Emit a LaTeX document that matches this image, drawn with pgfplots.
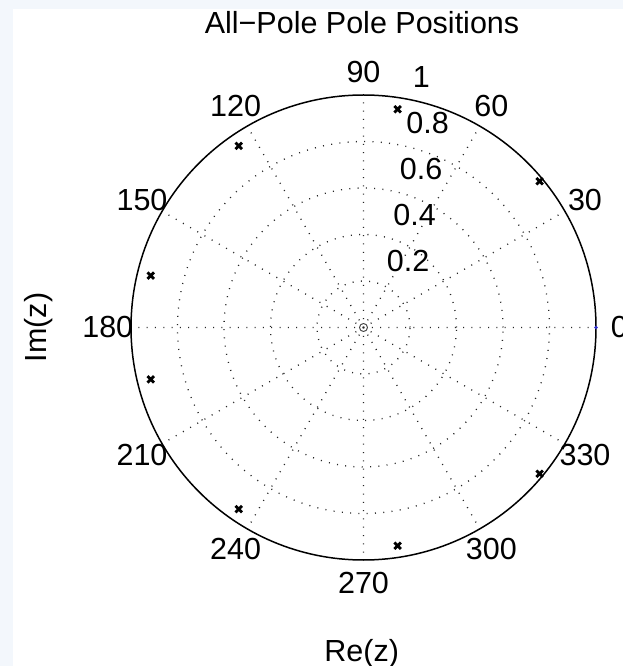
\documentclass[border=0pt]{standalone}
\usepackage{fontspec}
\setmainfont{Liberation Sans}
\usepackage{pgfplots}
\pgfplotsset{compat=1.18}
\usepgfplotslibrary{polar}
\definecolor{bgstrip}{HTML}{F3F7FC}
\definecolor{bluedot}{HTML}{3333CC}
\begin{document}
\begin{tikzpicture}[font=\fontsize{30.5bp}{36bp}\selectfont]
\path[use as bounding box] (0,0) rectangle (623bp,666bp);
\clip (0,0) rectangle (623bp,666bp);
\fill[white] (0,0) rectangle (623bp,666bp);
\fill[bgstrip] (0,0) rectangle (13.3bp,666bp);
\fill[bgstrip] (0,657bp) rectangle (623bp,666bp);
\begin{polaraxis}[
  at={(363.5bp,338.5bp)}, anchor=center,
  width=465bp, height=465bp, scale only axis,
  xmin=0, xmax=360, ymin=0, ymax=1,
  xtick={0,30,...,330}, ytick={0.2,0.4,0.6,0.8},
  xticklabels={}, yticklabels={},
  major tick length=0pt,
  grid=major,
  major grid style={black!85, line width=1.3bp, dash pattern=on 1bp off 7.3bp},
  separate axis lines,
  x axis line style={black, line width=1.5bp},
  y axis line style={draw=none},
  clip=false,
]
\addplot[only marks, mark=x, mark size=4.6bp, black, mark options={line width=2.8bp, black}] coordinates {
  (39.7,0.985) (320.3,0.985) (81.1,0.950) (278.9,0.950)
  (124.5,0.948) (235.5,0.948) (166.3,0.942) (193.7,0.942)};
\addplot[only marks, mark=o, mark size=4bp, black!75, mark options={line width=0.9bp}] coordinates {(0,0)};
\addplot[only marks, mark=*, mark size=1.5bp, bluedot] coordinates {(0,1)};
% angle labels
\node[inner sep=0] at (axis cs:0,1.1) {0};
\node[inner sep=0] at (axis cs:30,1.1) {30};
\node[inner sep=0] at (axis cs:60,1.1) {60};
\node[inner sep=0] at (axis cs:90,1.1) {90};
\node[inner sep=0] at (axis cs:120,1.1) {120};
\node[inner sep=0] at (axis cs:150,1.1) {150};
\node[inner sep=0] at (axis cs:180,1.1) {180};
\node[inner sep=0] at (axis cs:210,1.1) {210};
\node[inner sep=0] at (axis cs:240,1.1) {240};
\node[inner sep=0] at (axis cs:270,1.1) {270};
\node[inner sep=0] at (axis cs:300,1.1) {300};
\node[inner sep=0] at (axis cs:330,1.1) {330};
% radial labels
\node[inner sep=0, anchor=base west, xshift=16.5bp, yshift=7.5bp] at (axis cs:82,0.21) {0.2};
\node[inner sep=0, anchor=base west, xshift=16.5bp, yshift=7.5bp] at (axis cs:82,0.41) {0.4};
\node[inner sep=0, anchor=base west, xshift=16.5bp, yshift=7.5bp] at (axis cs:82,0.61) {0.6};
\node[inner sep=0, anchor=base west, xshift=16.5bp, yshift=7.5bp] at (axis cs:82,0.81) {0.8};
\node[inner sep=0, anchor=base west, xshift=16.5bp, yshift=7.5bp] at (axis cs:82,1.01) {1};
\end{polaraxis}
\node[inner sep=0, anchor=base] at (362bp,632.5bp) {All−Pole Pole Positions};
\node[inner sep=0, anchor=base] at (361.7bp,5bp) {Re(z)};
\node[inner sep=0, anchor=base, rotate=90] at (46.5bp,338.5bp) {Im(z)};
\end{tikzpicture}
\end{document}
